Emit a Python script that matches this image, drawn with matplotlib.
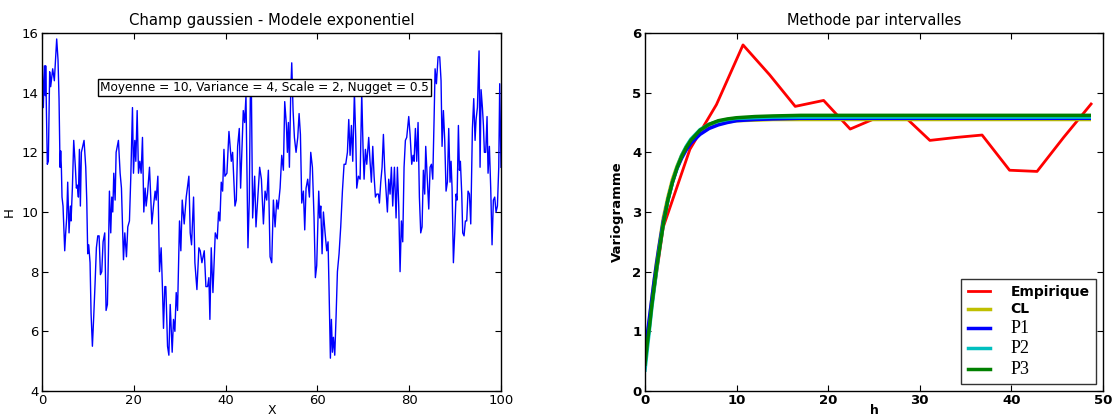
import matplotlib
matplotlib.use("Agg")
import matplotlib.pyplot as plt

# ---------------- data : left panel (gaussian field) ----------------
X = [0.0, 0.29, 0.51, 0.73, 0.8, 1.16, 1.38, 1.67, 1.89, 2.11, 2.33, 2.69, 3.2, 3.49, 3.71, 3.93,
     4.07, 4.22, 4.36, 4.58, 4.8, 4.95, 5.16, 5.38, 5.6, 5.89, 6.18, 6.33, 6.62, 6.91, 7.27, 7.49,
     7.71, 7.93, 8.15, 8.36, 8.58, 8.87, 9.16, 9.53, 9.75, 9.96, 10.18, 10.47, 10.69, 10.98, 11.27,
     11.56, 11.85, 12.15, 12.44, 12.73, 13.02, 13.31, 13.67, 13.96, 14.25, 14.47, 14.69, 14.98,
     15.2, 15.42, 15.64, 15.93, 16.15, 16.65, 17.02, 17.31, 17.75, 18.04, 18.4, 18.69, 19.05,
     19.35, 19.71, 19.93, 20.22, 20.44, 20.73, 21.02, 21.31, 21.6, 21.89, 22.18, 22.47, 22.69,
     22.98, 23.42, 23.93, 24.29, 24.65, 24.87, 25.24, 25.6, 25.96, 26.25, 26.47, 26.76, 26.98,
     27.35, 27.64, 27.93, 28.36, 28.65, 28.95, 29.24, 29.53, 29.96, 30.25, 30.55, 30.98, 31.42,
     32.0, 32.29, 32.58, 33.02, 33.31, 33.75, 34.18, 34.47, 34.84, 35.35, 35.71, 36.07, 36.36,
     36.58, 36.87, 37.24, 37.75, 38.18, 38.47, 38.76, 39.05, 39.35, 39.64, 39.85, 40.29, 40.73,
     41.24, 41.53, 42.04, 42.33, 42.62, 42.98, 43.27, 43.85, 44.15, 44.44, 44.87, 45.16, 45.38,
     45.6, 45.89, 46.33, 46.62, 46.98, 47.42, 47.8, 48.24, 48.6, 48.96, 49.32, 49.69, 50.05,
     50.41, 50.78, 51.14, 51.43, 51.87, 52.23, 52.59, 52.88, 53.25, 53.46, 53.68, 53.9, 54.19,
     54.41, 54.7, 54.99, 55.35, 55.72, 56.01, 56.3, 56.59, 56.95, 57.24, 57.53, 57.89, 58.26,
     58.55, 58.91, 59.27, 59.56, 59.85, 60.29, 60.51, 60.73, 61.02, 61.31, 61.67, 62.03, 62.32,
     62.54, 62.83, 63.05, 63.27, 63.49, 63.78, 64.07, 64.36, 64.72, 65.08, 65.45, 65.81, 66.17,
     66.54, 66.83, 67.12, 67.41, 67.7, 68.06, 68.35, 68.57, 68.93, 69.3, 69.66, 69.95, 70.17,
     70.46, 70.75, 71.18, 71.47, 71.76, 72.06, 72.35, 72.64, 72.93, 73.29, 73.51, 73.8, 74.09,
     74.38, 74.67, 74.96, 75.25, 75.54, 75.83, 76.12, 76.41, 76.78, 77.14, 77.43, 77.72, 78.01,
     78.3, 78.59, 78.88, 79.17, 79.46, 79.9, 80.19, 80.55, 80.84, 81.06, 81.35, 81.64, 81.93,
     82.22, 82.51, 82.8, 83.09, 83.38, 83.6, 83.97, 84.26, 84.55, 84.84, 85.13, 85.42, 85.64,
     85.93, 86.29, 86.65, 86.94, 87.16, 87.45, 87.74, 88.03, 88.32, 88.61, 88.9, 89.12, 89.34,
     89.63, 89.92, 90.21, 90.43, 90.72, 90.94, 91.15, 91.45, 91.66, 91.95, 92.24, 92.53, 92.82,
     93.12, 93.41, 93.77, 94.06, 94.35, 94.57, 94.86, 95.22, 95.44, 95.66, 95.95, 96.17, 96.38,
     96.67, 96.96, 97.18, 97.47, 97.76, 98.05, 98.34, 98.63, 98.92, 99.22, 99.51, 99.72, 100.0]
H = [15.1, 13.5, 14.9, 13.9, 14.9, 11.6, 11.7, 14.7, 14.2, 14.5, 14.8, 14.4, 15.8, 15.1, 13.8, 11.5,
     12.05, 11.5, 10.5, 10.2, 9.3, 8.7, 9.3, 9.8, 11.0, 9.3, 10.2, 9.7, 10.8, 12.4, 11.5, 10.8,
     10.9, 10.5, 12.1, 10.2, 12.0, 12.2, 12.4, 11.5, 10.4, 8.6, 8.9, 8.3, 6.6, 5.5, 6.5,
     7.6, 8.8, 9.2, 9.2, 7.9, 8.0, 9.0, 9.3, 6.7, 6.9, 8.6, 10.7, 9.3,
     10.5, 10.0, 11.3, 10.4, 12.0, 12.4, 11.3, 10.8, 8.4, 9.3, 8.5, 9.5, 9.7,
     11.2, 13.5, 11.3, 12.4, 11.7, 13.4, 11.3, 11.7, 11.3, 12.5, 10.0, 10.8, 10.2,
     10.6, 11.5, 9.6, 10.2, 10.7, 10.4, 11.2, 8.0, 8.8, 7.4, 6.1, 7.5, 7.5,
     5.5, 5.2, 6.9, 5.3, 6.4, 6.0, 7.3, 6.7, 9.7, 8.7, 10.4, 9.6, 10.5,
     11.2, 9.3, 8.9, 10.5, 8.3, 7.4, 8.8, 8.7, 8.3, 8.7, 7.5, 7.5, 7.8,
     6.4, 8.8, 7.3, 9.3, 9.1, 10.0, 9.7, 11.0, 10.7, 12.1, 11.2, 11.3, 12.7,
     11.7, 12.0, 10.2, 10.4, 12.2, 12.8, 10.8, 13.4, 13.0, 13.9, 8.8, 10.4, 13.8,
     14.4, 9.8, 11.2, 9.5, 10.4, 11.5, 11.1, 9.6, 10.7, 10.4, 11.4, 8.5, 8.3,
     10.4, 9.5, 10.4, 10.1, 10.8, 11.9, 11.4, 13.7, 12.9, 12.0, 13.0, 11.5, 14.0,
     15.0, 13.4, 12.5, 12.0, 12.5, 13.3, 12.6, 10.3, 10.7, 9.4, 10.8, 11.1, 10.5,
     12.0, 11.5, 9.8, 7.8, 8.2, 10.7, 9.8, 10.2, 8.6, 10.0, 9.3, 8.7, 9.0,
     7.4, 5.1, 6.4, 5.3, 5.8, 5.2, 6.5, 8.0, 8.6, 9.5, 10.7, 11.6, 11.6,
     12.0, 13.1, 11.9, 12.9, 11.7, 14.0, 12.5, 10.8, 11.2, 11.1, 14.0, 12.1, 11.1,
     12.1, 11.6, 12.5, 11.7, 11.0, 12.2, 11.2, 10.5, 10.6, 10.6, 10.3, 11.0, 11.5,
     12.6, 11.4, 10.7, 10.0, 11.1, 10.6, 11.5, 10.2, 11.5, 9.8, 11.5, 10.2, 8.0,
     9.7, 9.0, 11.5, 12.4, 12.5, 13.2, 12.6, 11.6, 11.9, 11.7, 12.8, 11.7, 13.0,
     10.5, 9.3, 9.5, 11.4, 10.6, 12.2, 11.0, 10.1, 11.5, 11.6, 11.1, 13.1, 14.8,
     14.3, 15.2, 15.2, 14.4, 12.2, 13.4, 12.4, 10.7, 11.0, 12.8, 11.0, 11.7, 10.8,
     8.3, 9.3, 10.6, 10.4, 12.9, 11.4, 11.7, 10.6, 9.3, 9.2, 9.7, 9.7, 10.7,
     10.6, 9.6, 12.8, 13.8, 12.4, 13.1, 13.5, 15.4, 11.5, 14.1, 13.5, 12.9, 12.0,
     12.0, 13.2, 11.3, 12.2, 10.8, 8.9, 10.4, 10.5, 10.0, 10.2, 11.5, 14.3, 11.5]

annot_text = "Moyenne = 10, Variance = 4, Scale = 2, Nugget = 0.5"

# ---------------- data : right panel (variograms) ----------------
h_emp = [0.1, 2.0, 4.9, 7.8, 10.7, 13.6, 16.4, 19.5, 22.4, 25.3, 28.2, 31.1, 34.0, 36.8, 39.8,
         42.8, 45.7, 48.7]
g_emp = [0.75, 2.75, 4.05, 4.8, 5.8, 5.3, 4.77, 4.87, 4.39, 4.58, 4.62, 4.2, 4.25, 4.29, 3.7,
         3.68, 4.25, 4.81]

h_mod = [0, 0.25, 0.5, 0.75, 1, 1.25, 1.5, 2, 2.5, 3, 3.5, 4, 4.5, 5, 6, 7, 8, 9, 10, 12, 14,
         17, 20, 25, 30, 40, 48.5]
g_CL = [0.55, 0.9, 1.2, 1.55, 1.85, 2.15, 2.4, 2.9, 3.25, 3.55, 3.77, 3.95, 4.09, 4.2, 4.34,
        4.43, 4.48, 4.51, 4.53, 4.54, 4.55, 4.55, 4.55, 4.55, 4.55, 4.55, 4.55]
g_P1 = [0.6, 0.95, 1.25, 1.55, 1.85, 2.12, 2.38, 2.85, 3.2, 3.5, 3.73, 3.9, 4.04, 4.15, 4.3,
        4.4, 4.46, 4.5, 4.53, 4.55, 4.56, 4.57, 4.57, 4.57, 4.57, 4.57, 4.57]
g_P2 = [0.35, 0.7, 1.05, 1.4, 1.7, 2.0, 2.3, 2.8, 3.2, 3.5, 3.75, 3.95, 4.1, 4.22, 4.38,
        4.47, 4.52, 4.55, 4.57, 4.58, 4.59, 4.59, 4.59, 4.59, 4.59, 4.59, 4.59]
g_P3 = [0.45, 0.8, 1.1, 1.45, 1.75, 2.05, 2.3, 2.8, 3.2, 3.5, 3.74, 3.93, 4.08, 4.2, 4.37,
        4.47, 4.53, 4.56, 4.58, 4.6, 4.61, 4.62, 4.62, 4.62, 4.62, 4.62, 4.62]

# ---------------- figure ----------------
plt.rcParams['font.family'] = ['DejaVu Sans']
plt.rcParams['xtick.direction'] = 'in'
plt.rcParams['ytick.direction'] = 'in'
plt.rcParams['xtick.top'] = True
plt.rcParams['ytick.right'] = True
plt.rcParams['xtick.major.size'] = 4
plt.rcParams['ytick.major.size'] = 4

fig = plt.figure(figsize=(11.12, 4.18), dpi=100)
W, Hpx = 1112.0, 418.0
ax1 = fig.add_axes([42 / W, 1 - 391 / Hpx, (501 - 42) / W, (391 - 33) / Hpx])
ax2 = fig.add_axes([645 / W, 1 - 391 / Hpx, (1103 - 645) / W, (391 - 33) / Hpx])

tick_fs = 9.5

# left
ax1.plot(X, H, color='#0000ff', lw=1.0)
ax1.set_xlim(0, 100)
ax1.set_ylim(4, 16)
ax1.set_xticks([0, 20, 40, 60, 80, 100])
ax1.set_yticks([4, 6, 8, 10, 12, 14, 16])
ax1.tick_params(labelsize=tick_fs, pad=2.5)
ax1.set_title("Champ gaussien - Modele exponentiel", fontsize=10.75, pad=6)
ax1.set_xlabel("X", fontsize=9, labelpad=-2.5)
ax1.set_ylabel("H", fontsize=9.5, labelpad=4)
ax1.text(12.6, 14.18, annot_text, fontsize=8.75, va='center', ha='left',
         bbox=dict(facecolor='white', edgecolor='black', boxstyle='square,pad=0.15', lw=1.0),
         zorder=5)

# right
ax2.plot(h_emp, g_emp, color='#ff0000', lw=2, label='Empirique')
ax2.plot(h_mod, g_CL, color='#bfbf00', lw=2.5, label='CL')
ax2.plot(h_mod, g_P1, color='#0000ff', lw=2.5, label='P1')
ax2.plot(h_mod, g_P2, color='#00bfbf', lw=2.5, label='P2')
ax2.plot(h_mod, g_P3, color='#008000', lw=2.5, label='P3')
ax2.set_xlim(0, 50)
ax2.set_ylim(0, 6)
ax2.set_xticks([0, 10, 20, 30, 40, 50])
ax2.set_yticks([0, 1, 2, 3, 4, 5, 6])
ax2.tick_params(labelsize=tick_fs, pad=2.5)
for lab in ax2.get_xticklabels() + ax2.get_yticklabels():
    lab.set_fontweight('bold')
ax2.set_title("Methode par intervalles", fontsize=10.5, pad=6)
ax2.set_xlabel("h", fontsize=9, labelpad=-2.5, fontweight='bold')
ax2.set_ylabel("Variogramme", fontsize=9.5, labelpad=6, fontweight='bold')
leg = ax2.legend(loc='lower right', fontsize=10, frameon=True, fancybox=False,
                 handlelength=1.6, handletextpad=1.5, labelspacing=0.25,
                 borderaxespad=0.5, borderpad=0.45)
leg.get_frame().set_edgecolor('black')
leg.get_frame().set_linewidth(1.0)
for t in leg.get_texts()[:2]:
    t.set_fontweight('bold')
for t in leg.get_texts()[2:]:
    t.set_fontfamily('Liberation Serif')
    t.set_fontsize(13)

for ax in (ax1, ax2):
    for s in ax.spines.values():
        s.set_linewidth(1.0)

fig.savefig("out.png", dpi=100)
